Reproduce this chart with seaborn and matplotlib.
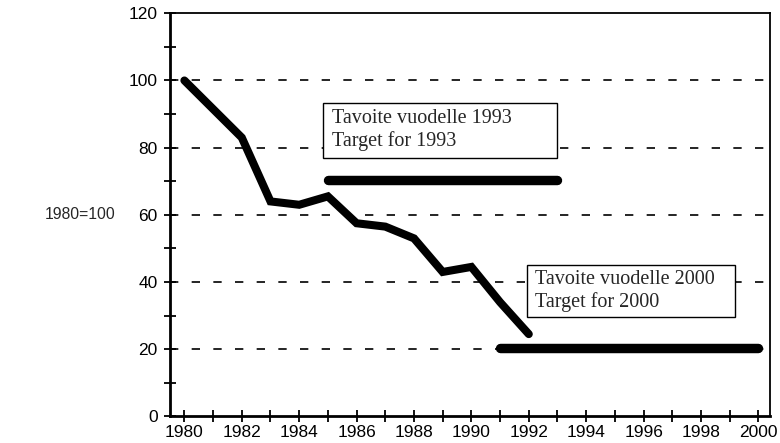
import numpy as np
import pandas as pd
import seaborn as sns
from matplotlib import pyplot as plt
from matplotlib.patches import Rectangle
from matplotlib.ticker import MultipleLocator

# Index series, 1980=100
years = [1980, 1981, 1982, 1983, 1984, 1985, 1986, 1987, 1988, 1989, 1990, 1991, 1992]
index = [100, 91.5, 83, 64, 63, 65.5, 57.5, 56.5, 53, 43, 44.5, 34, 24.5]

# Target lines
target_1993_years = [1985, 1993]
target_1993_vals = [70.3, 70.3]
target_2000_years = [1991, 2000]
target_2000_vals = [20.3, 20.3]

y_ticks = [0, 20, 40, 60, 80, 100, 120]
x_ticks = list(range(1980, 2001, 2))

sns.set_style("white")
plt.rcParams['font.family'] = ['Liberation Sans', 'DejaVu Sans']

fig = plt.figure(figsize=(7.8, 4.43), dpi=100)
ax = fig.add_axes([0.218, 0.06, 0.769, 0.91])

df = pd.DataFrame({"year": years, "index": index})
sns.lineplot(data=df, x="year", y="index", ax=ax, color="black", linewidth=5.8,
             solid_capstyle="round", solid_joinstyle="miter")
sns.lineplot(x=target_1993_years, y=target_1993_vals, ax=ax, color="black",
             linewidth=6.8, solid_capstyle="round")
sns.lineplot(x=target_2000_years, y=target_2000_vals, ax=ax, color="black",
             linewidth=6.8, solid_capstyle="round")

# dashed gridlines at every 20 (not on the frame)
for v in y_ticks[1:-1]:
    ax.axhline(v, color="black", linestyle=(0, (5, 8)), linewidth=1.2, zorder=0)

ax.set_xlim(1979.5, 2000.4)
ax.set_ylim(0, 120)
ax.set_xticks(x_ticks)
ax.set_yticks(y_ticks)
ax.xaxis.set_minor_locator(MultipleLocator(1))
ax.yaxis.set_minor_locator(MultipleLocator(10))
ax.tick_params(which="both", direction="inout", length=8, width=1.3, color="black",
               labelsize=12.5, labelcolor="black")
ax.tick_params(axis="x", which="both", bottom=True, top=False, pad=2)
ax.tick_params(axis="y", which="both", left=True, right=False, pad=5)
for s in ax.spines.values():
    s.set_color("black")
    s.set_linewidth(1.3)
ax.spines["left"].set_linewidth(2)
ax.spines["bottom"].set_linewidth(2)

ax.set_xlabel("")
ax.set_ylabel("1980=100", rotation=0, fontsize=11.3, labelpad=0, va="center")
ax.yaxis.set_label_coords(-0.15, 0.5)

# annotation boxes
for (x0, y0, x1, y1) in [(1984.83, 77.0, 1992.98, 93.4), (1991.93, 29.6, 1999.18, 45.1)]:
    ax.add_patch(Rectangle((x0, y0), x1 - x0, y1 - y0, facecolor="white",
                           edgecolor="black", linewidth=1, zorder=3))
ax.text(1985.14, 85.2, "Tavoite vuodelle 1993\nTarget for 1993", family="Liberation Serif",
        fontsize=14.5, va="center", ha="left", linespacing=1.2, zorder=4)
ax.text(1992.2, 37.3, "Tavoite vuodelle 2000\nTarget for 2000", family="Liberation Serif",
        fontsize=14.5, va="center", ha="left", linespacing=1.2, zorder=4)

fig.savefig("out.png", dpi=100)
